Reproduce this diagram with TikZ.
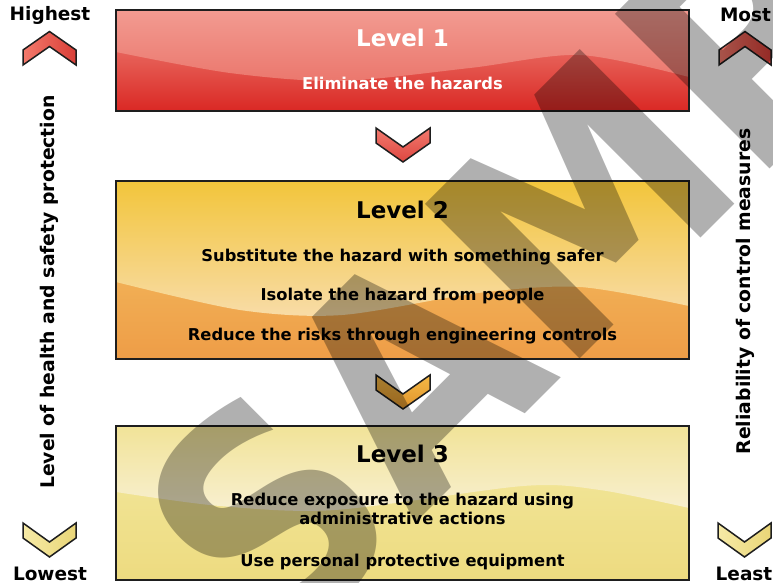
\documentclass[tikz,border=0pt]{standalone}
\usepackage{fontspec}
\setmainfont{DejaVu Sans}
\definecolor{rA}{HTML}{F29B91}
\definecolor{rB}{HTML}{EB776D}
\definecolor{rC}{HTML}{F08C80}
\definecolor{rD}{HTML}{DA2824}
\definecolor{oA}{HTML}{F2C53B}
\definecolor{oB}{HTML}{F8DCA8}
\definecolor{oC}{HTML}{F5C566}
\definecolor{oD}{HTML}{EE9D47}
\definecolor{yA}{HTML}{F1E398}
\definecolor{yB}{HTML}{F8F0D2}
\definecolor{yC}{HTML}{F3E9A0}
\definecolor{yD}{HTML}{EDDB80}
\definecolor{edge}{HTML}{1E1E1E}
\definecolor{chRedL}{HTML}{F47A6C}
\definecolor{chRedR}{HTML}{D83E37}
\definecolor{chRedT}{HTML}{F27A6E}
\definecolor{chRedB}{HTML}{DD4640}
\definecolor{chOrT}{HTML}{F4B846}
\definecolor{chOrB}{HTML}{E0952C}
\definecolor{chYelL}{HTML}{F6EAA6}
\definecolor{chYelR}{HTML}{E9D577}
\begin{document}
\begin{tikzpicture}[x=1pt,y=-1pt,
  boxnode/.style={minimum width=573pt, inner sep=0pt, outer sep=0pt},
  frame/.style={draw=edge, line width=2pt},
  level/.style={font=\fontsize{23}{27}\selectfont\bfseries, anchor=base, inner sep=0pt},
  item/.style={font=\fontsize{16.3}{19}\selectfont\bfseries, anchor=base, inner sep=0pt},
  side/.style={font=\fontsize{18.5}{22}\selectfont\bfseries, anchor=base, inner sep=0pt},
  vside/.style={font=\fontsize{18.8}{22}\selectfont\bfseries, anchor=base, inner sep=0pt, rotate=90},
  chev/.style={draw=edge, line width=1.5pt, line join=miter},
]
\useasboundingbox (0,0) rectangle (773,583);
\fill[white] (0,0) rectangle (773,583);

% ---------- the three level boxes ----------
\node[boxnode, minimum height=101pt] (box1) at (402.5,60.5) {};
\node[boxnode, minimum height=178pt] (box2) at (402.5,270) {};
\node[boxnode, minimum height=154pt] (box3) at (402.5,503) {};

% Level 1: red with a glossy upper band
\begin{scope}
  \clip (box1.north west) rectangle (box1.south east);
  \shade[top color=rC, bottom color=rD] (box1.north west) rectangle (box1.south east);
  \shade[top color=rA, bottom color=rB] (box1.north west) --
    plot[smooth] coordinates {(116,52) (230,73) (340,81) (470,68) (580,55) (689,77)}
    -- (box1.north east) -- cycle;
\end{scope}
\draw[frame] (box1.north west) rectangle (box1.south east);

% Level 2: amber
\begin{scope}
  \clip (box2.north west) rectangle (box2.south east);
  \shade[top color=oC, bottom color=oD] (box2.north west) rectangle (box2.south east);
  \shade[top color=oA, bottom color=oB] (box2.north west) --
    plot[smooth] coordinates {(116,282) (240,310) (342,315) (478,293) (580,287) (689,306)}
    -- (box2.north east) -- cycle;
\end{scope}
\draw[frame] (box2.north west) rectangle (box2.south east);

% Level 3: pale yellow
\begin{scope}
  \clip (box3.north west) rectangle (box3.south east);
  \shade[top color=yC, bottom color=yD] (box3.north west) rectangle (box3.south east);
  \shade[top color=yA, bottom color=yB] (box3.north west) --
    plot[smooth] coordinates {(116,492) (220,506) (335,510) (523,486) (600,490) (689,508)}
    -- (box3.north east) -- cycle;
\end{scope}
\draw[frame] (box3.north west) rectangle (box3.south east);

% ---------- box texts ----------
\node[level, text=white] (t1) at (402.5,46.7) {Level 1};
\node[item, text=white] (t1a) at (402.5,89.3) {Eliminate the hazards};

\node[level] (t2) at (402.5,218.5) {Level 2};
\node[item] (t2a) at (402.5,261) {Substitute the hazard with something safer};
\node[item] (t2b) at (402.5,300) {Isolate the hazard from people};
\node[item] (t2c) at (402.5,340) {Reduce the risks through engineering controls};

\node[level] (t3) at (402.5,462.5) {Level 3};
\node[item] (t3a) at (402.5,505) {Reduce exposure to the hazard using};
\node[item] (t3b) at (402.5,524) {administrative actions};
\node[item] (t3c) at (402.5,566.5) {Use personal protective equipment};

% ---------- chevrons between the boxes ----------
\draw[chev, top color=chRedT, bottom color=chRedB]
  (376,128) -- (403,147) -- (430,128) -- (430,143) -- (403,162) -- (376,143) -- cycle;
\draw[chev, top color=chOrT, bottom color=chOrB]
  (376,375) -- (403,394) -- (430,375) -- (430,390) -- (403,409) -- (376,390) -- cycle;

% ---------- side scales ----------
\draw[chev, left color=chRedL, right color=chRedR]
  (23,50) -- (49.5,31.5) -- (76,50) -- (76,65) -- (49.5,46.5) -- (23,65) -- cycle;
\draw[chev, left color=chRedL, right color=chRedR]
  (719,50) -- (745,31.5) -- (771,50) -- (771,65) -- (745,46.5) -- (719,65) -- cycle;
\draw[chev, left color=chYelL, right color=chYelR]
  (23,523) -- (49.5,542) -- (76,523) -- (76,538) -- (49.5,557) -- (23,538) -- cycle;
\draw[chev, left color=chYelL, right color=chYelR]
  (718,523) -- (744.5,542) -- (771,523) -- (771,538) -- (744.5,557) -- (718,538) -- cycle;

\node[side] (hi) at (50,21) {Highest};
\node[side] (lo) at (50,580) {Lowest};
\node[side] (mo) at (745.5,21.5) {Most};
\node[side] (le) at (744,580) {Least};
\node[vside] (lv) at (54,292) {Level of health and safety protection};
\node[vside] (rl) at (750,291.5) {Reliability of control measures};

% ---------- watermark ----------
\begin{scope}
  \clip (0,0) rectangle (773,583);
  \node[anchor=base west, rotate=45, xscale=0.9, inner sep=0pt, text=black, text opacity=0.31,
        font=\fontsize{300}{300}\selectfont\bfseries] (wm) at (276.7,661.6) {SAMPLE};
\end{scope}
\end{tikzpicture}
\end{document}
